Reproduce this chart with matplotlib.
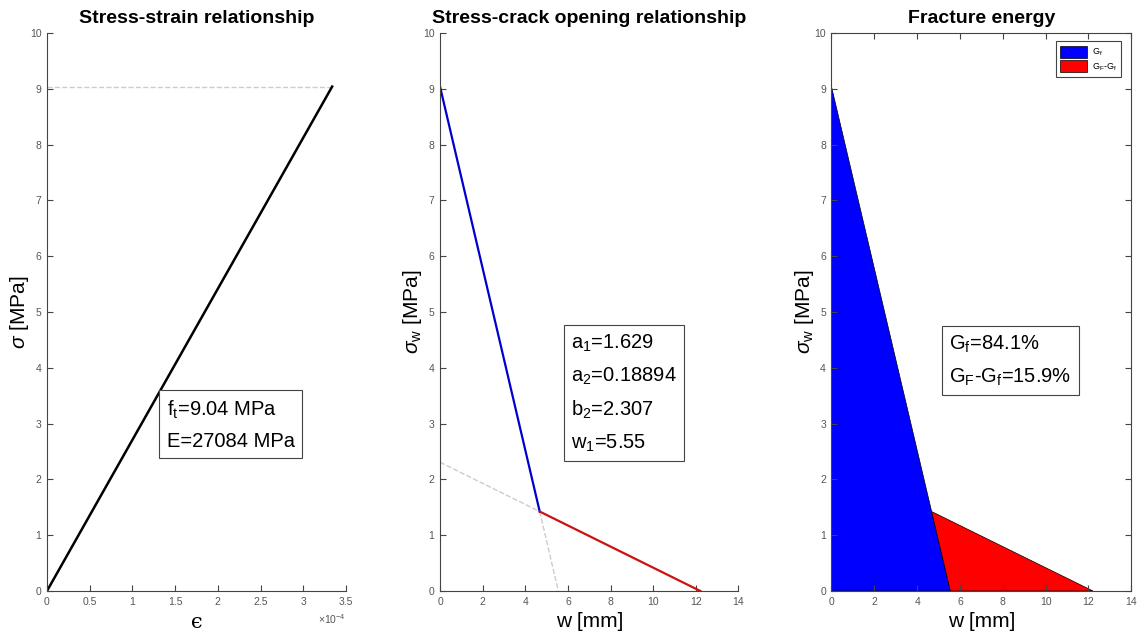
import matplotlib
matplotlib.use("Agg")
import matplotlib.pyplot as plt
from matplotlib.patches import Polygon, Patch

plt.rcParams['font.family'] = ['Liberation Sans', 'DejaVu Sans']
plt.rcParams['mathtext.fontset'] = 'custom'
plt.rcParams['mathtext.rm'] = 'Liberation Sans'
plt.rcParams['mathtext.it'] = 'Liberation Sans:italic'
plt.rcParams['mathtext.fallback'] = 'cm'

# material parameters (shown in the text boxes)
ft = 9.04
E = 27084
a1, a2, b2, w1 = 1.629, 0.18894, 2.307, 5.55
gf_pct, gfr_pct = 84.1, 15.9

# stress-strain curve
strain = [0, 3.338e-4]
stress = [0, 9.04]
strain_ticks = [0, 0.5e-4, 1e-4, 1.5e-4, 2e-4, 2.5e-4, 3e-4, 3.5e-4]
strain_ticklabels = ['0', '0.5', '1', '1.5', '2', '2.5', '3', '3.5']

# bilinear softening curve
w_blue = [0, 4.676]
s_blue = [9.04, 1.424]
w_red = [4.676, 12.21]
s_red = [1.424, 0]
w_guide1 = [4.676, 5.55]
s_guide1 = [1.424, 0]
w_guide2 = [0, 4.676]
s_guide2 = [2.307, 1.424]

# fracture energy areas
gf_w = [0, 0, 4.676, 5.55]
gf_s = [0, 9.04, 1.424, 0]
gfr_w = [4.676, 12.21, 5.55]
gfr_s = [1.424, 0, 0]

axis_col = '#444444'
label_col = '#555555'
guide_col = '#cccccc'

fig = plt.figure(figsize=(11.37, 6.35), dpi=100)
ax1 = fig.add_axes([0.0413, 0.0693, 0.263, 0.8787])
ax2 = fig.add_axes([0.3870, 0.0693, 0.2625, 0.8787])
ax3 = fig.add_axes([0.7313, 0.0693, 0.2637, 0.8787])


def style_axes(ax, box):
    for side in ['left', 'bottom', 'top', 'right']:
        ax.spines[side].set_color(axis_col)
        ax.spines[side].set_linewidth(0.8)
    ax.spines['top'].set_visible(box)
    ax.spines['right'].set_visible(box)
    ax.tick_params(direction='in', length=4, width=0.8, colors=axis_col,
                   labelcolor=label_col, labelsize=7.5, top=box, right=box, pad=4)
    ax.set_ylim(0, 10)
    ax.set_yticks(range(0, 11))


def text_box(ax, x, y, s):
    ax.text(x, y, s, fontsize=14.5, va='center', ha='left', linespacing=1.72,
            bbox=dict(boxstyle='square,pad=0.36', facecolor='white',
                      edgecolor=axis_col, linewidth=0.8))


# panel 1
style_axes(ax1, False)
ax1.plot([0, strain[-1]], [stress[-1], stress[-1]], '--', color=guide_col, lw=1)
ax1.plot(strain, stress, color='black', lw=1.8)
ax1.set_xlim(0, 3.5e-4)
ax1.set_xticks(strain_ticks)
ax1.set_xticklabels(strain_ticklabels)
ax1.text(1.0, -0.05, r'$\times10^{-4}$', transform=ax1.transAxes, fontsize=7.5,
         color=label_col, ha='right', va='center')
ax1.set_title('Stress-strain relationship', fontsize=14, fontweight='bold', pad=7)
ax1.set_xlabel('\u03f5', fontsize=15, labelpad=5, family=['DejaVu Serif', 'DejaVu Sans'])
ax1.set_ylabel(r'$\sigma$ [MPa]', fontsize=15, labelpad=-1)
text_box(ax1, 1.40e-4, 2.975,
         'f$_\\mathrm{t}$=%.2f MPa\nE=%d MPa' % (ft, E))

# panel 2
style_axes(ax2, False)
ax2.plot(w_guide1, s_guide1, '--', color=guide_col, lw=1)
ax2.plot(w_guide2, s_guide2, '--', color=guide_col, lw=1)
ax2.plot(w_blue, s_blue, color='#0000cc', lw=1.6)
ax2.plot(w_red, s_red, color='#cc1111', lw=1.6)
ax2.set_xlim(0, 14)
ax2.set_xticks(range(0, 15, 2))
ax2.set_title('Stress-crack opening relationship', fontsize=14, fontweight='bold', pad=7)
ax2.set_xlabel('w [mm]', fontsize=15, labelpad=4)
ax2.set_ylabel(r'$\sigma_\mathrm{w}$ [MPa]', fontsize=15, labelpad=-1)
text_box(ax2, 6.15, 3.54,
         'a$_\\mathrm{1}$=%g\na$_\\mathrm{2}$=%g\nb$_\\mathrm{2}$=%g\nw$_\\mathrm{1}$=%g'
         % (a1, a2, b2, w1))

# panel 3
style_axes(ax3, True)
ax3.add_patch(Polygon(list(zip(gf_w, gf_s)), closed=True, facecolor='#0000ff',
                      edgecolor='black', lw=0.5))
ax3.add_patch(Polygon(list(zip(gfr_w, gfr_s)), closed=True, facecolor='#ff0000',
                      edgecolor='black', lw=0.5))
ax3.set_xlim(0, 14)
ax3.set_xticks(range(0, 15, 2))
ax3.set_title('Fracture energy', fontsize=14, fontweight='bold', pad=7)
ax3.set_xlabel('w [mm]', fontsize=15, labelpad=4)
ax3.set_ylabel(r'$\sigma_\mathrm{w}$ [MPa]', fontsize=15, labelpad=-1)
text_box(ax3, 5.5, 4.13,
         'G$_\\mathrm{f}$=%.1f%%\nG$_\\mathrm{F}$-G$_\\mathrm{f}$=%.1f%%' % (gf_pct, gfr_pct))
handles = [Patch(facecolor='#0000ff', edgecolor='black', lw=0.5, label='G$_\\mathrm{f}$'),
           Patch(facecolor='#ff0000', edgecolor='black', lw=0.5,
                 label='G$_\\mathrm{F}$-G$_\\mathrm{f}$')]
leg = ax3.legend(handles=handles, loc='upper right', fontsize=6.5, fancybox=False,
                 edgecolor=axis_col, framealpha=1, handlelength=3.0, handleheight=1.7,
                 borderpad=0.45, labelspacing=0.25, handletextpad=0.5,
                 bbox_to_anchor=(0.98, 0.993))
leg.get_frame().set_linewidth(0.8)

fig.savefig('out.png', dpi=100)
